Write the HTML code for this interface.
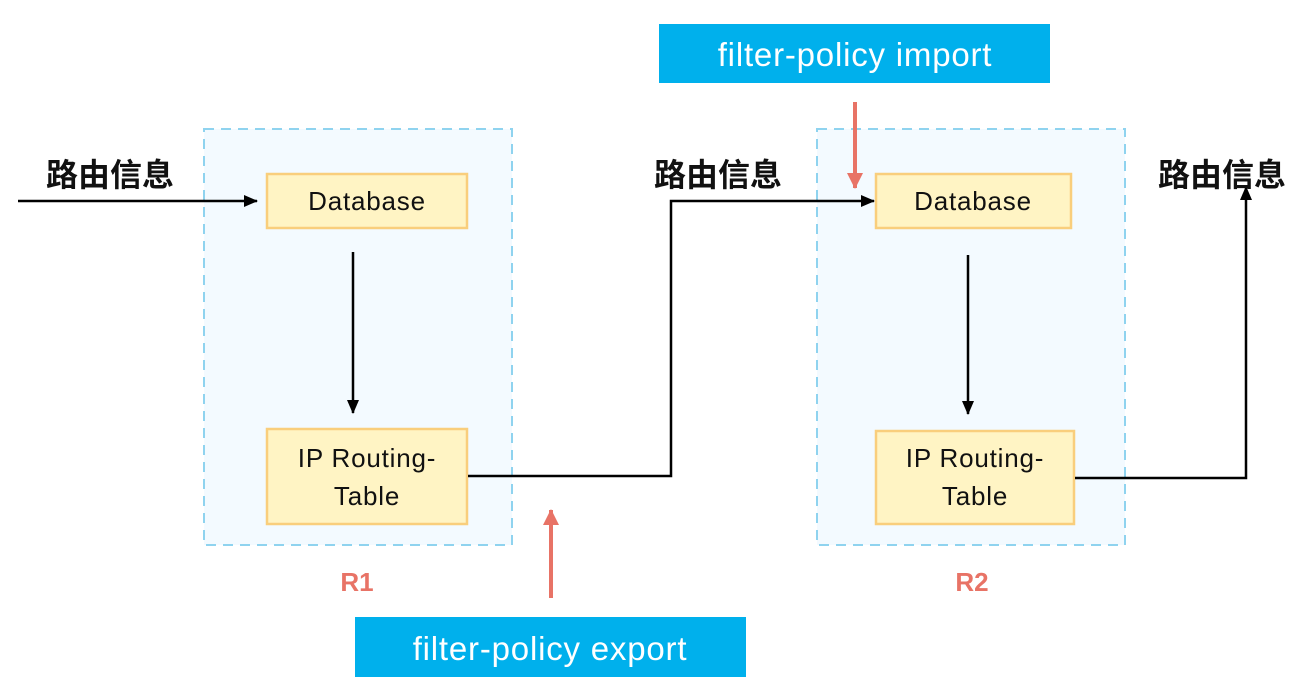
<!DOCTYPE html>
<html><head><meta charset="utf-8"><style>
html,body{margin:0;padding:0;background:#fff;width:1309px;height:692px;overflow:hidden}
svg{display:block}
.t{font-family:"Liberation Sans","DejaVu Sans",sans-serif}
.cjk{font-family:"Liberation Sans","Noto Sans CJK SC",sans-serif;font-weight:bold}
</style></head><body>
<svg width="1309" height="692" viewBox="0 0 1309 692" xmlns="http://www.w3.org/2000/svg">
<defs>
<marker id="ab" markerWidth="14" markerHeight="12" refX="13" refY="6" orient="auto" markerUnits="userSpaceOnUse"><path d="M0,0 L14,6 L0,12 z" fill="#000"/></marker>
<marker id="ar" markerWidth="16" markerHeight="16" refX="15" refY="8" orient="auto" markerUnits="userSpaceOnUse"><path d="M0,0 L16,8 L0,16 z" fill="#e87366"/></marker>
</defs>
<rect x="204" y="129" width="308" height="416" fill="#f3faff" stroke="#8fd3ef" stroke-width="2" stroke-dasharray="10,7"/>
<rect x="817" y="129" width="308" height="416" fill="#f3faff" stroke="#8fd3ef" stroke-width="2" stroke-dasharray="10,7"/>
<rect x="267" y="174" width="200" height="54" fill="#fff4c4" stroke="#f9ce7c" stroke-width="2.5"/>
<rect x="267" y="429" width="200" height="95" fill="#fff4c4" stroke="#f9ce7c" stroke-width="2.5"/>
<rect x="876" y="174" width="195" height="54" fill="#fff4c4" stroke="#f9ce7c" stroke-width="2.5"/>
<rect x="876" y="431" width="198" height="93" fill="#fff4c4" stroke="#f9ce7c" stroke-width="2.5"/>
<g class="t" font-size="26" fill="#111" text-anchor="middle" letter-spacing="0.8">
<text x="367" y="210">Database</text>
<text x="367" y="467">IP Routing-</text>
<text x="367" y="505">Table</text>
<text x="973" y="210">Database</text>
<text x="975" y="467">IP Routing-</text>
<text x="975" y="505">Table</text>
</g>
<g stroke="#000" stroke-width="2.5" fill="none">
<line x1="18" y1="201" x2="257" y2="201" marker-end="url(#ab)"/>
<line x1="353" y1="252" x2="353" y2="413" marker-end="url(#ab)"/>
<line x1="968" y1="255" x2="968" y2="414" marker-end="url(#ab)"/>
<polyline points="468,476 671,476 671,201 874,201" marker-end="url(#ab)"/>
<polyline points="1075,478 1246,478 1246,187" marker-end="url(#ab)"/>
</g>
<line x1="855" y1="102" x2="855" y2="188" stroke="#e87366" stroke-width="4" marker-end="url(#ar)"/>
<line x1="551" y1="598" x2="551" y2="510" stroke="#e87366" stroke-width="4" marker-end="url(#ar)"/>
<g class="cjk" font-size="32" fill="#111">
<text x="46" y="186">路由信息</text>
<text x="654" y="186">路由信息</text>
<text x="1158" y="186">路由信息</text>
</g>
<g class="t" font-size="26" font-weight="bold" fill="#e87366" text-anchor="middle">
<text x="357" y="591">R1</text>
<text x="972" y="591">R2</text>
</g>
<rect x="659" y="24" width="391" height="59" fill="#00b0ec"/>
<rect x="355" y="617" width="391" height="60" fill="#00b0ec"/>
<g class="t" font-size="33" fill="#fff" text-anchor="middle" letter-spacing="0.8">
<text x="855" y="66">filter-policy import</text>
<text x="550" y="660">filter-policy export</text>
</g>
</svg>
</body></html>
